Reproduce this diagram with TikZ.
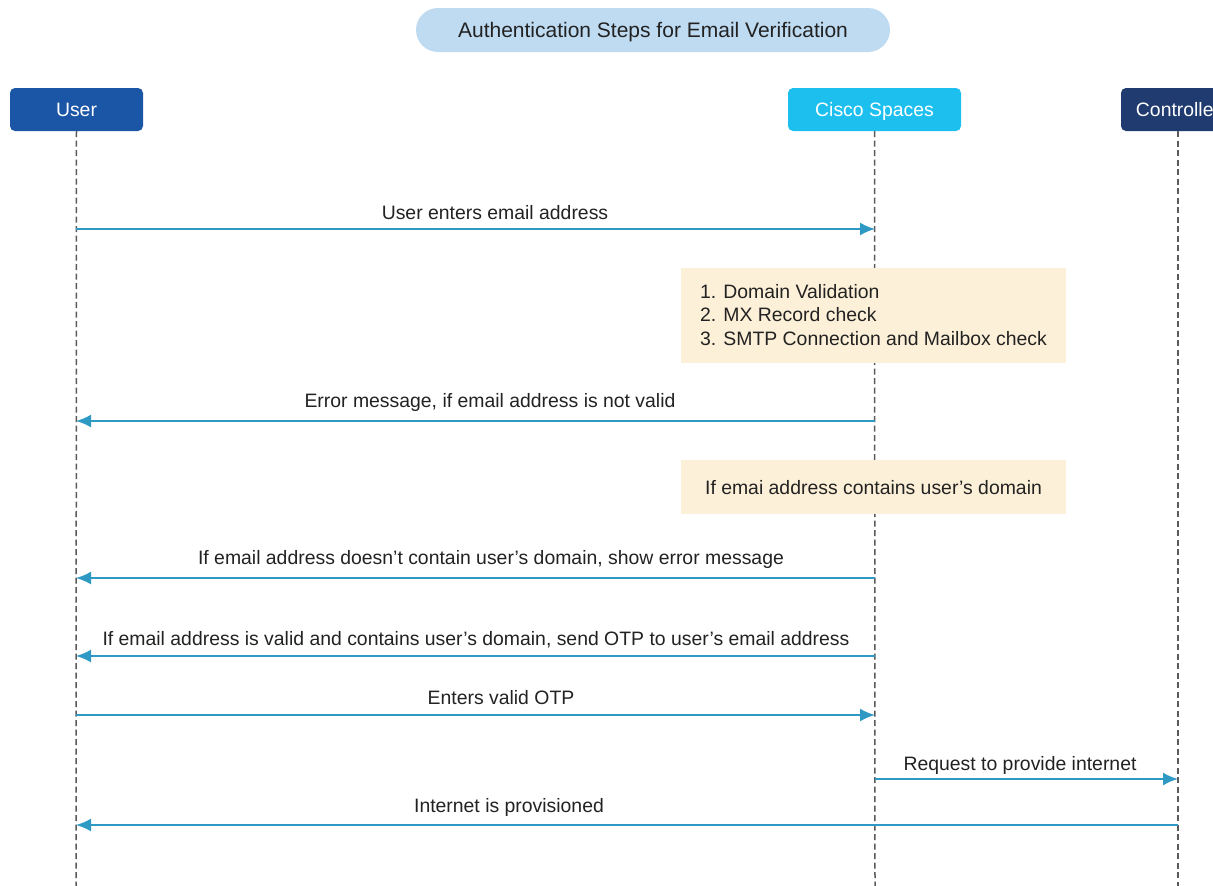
\documentclass[tikz,border=0pt]{standalone}
\usepackage{fontspec}
\setmainfont{Liberation Sans}
\usetikzlibrary{arrows.meta}
\definecolor{titlebg}{HTML}{BFDBF2}
\definecolor{userbg}{HTML}{1B56A6}
\definecolor{ciscobg}{HTML}{1DBFEF}
\definecolor{ctrlbg}{HTML}{1F3B70}
\definecolor{msgc}{HTML}{2E9AC4}
\definecolor{notebg}{HTML}{FDF0D8}
\definecolor{lifec}{HTML}{5A5A5A}
\definecolor{txt}{HTML}{222222}
\tikzset{
  actor/.style={rectangle, rounded corners=5, text=white, minimum height=43, inner sep=0, text height=14, text depth=0, font=\fontsize{19.4}{23}\selectfont},
  life/.style={draw=lifec, line width=1.5, dash pattern=on 6pt off 3.5pt},
  msg/.style={draw=msgc, line width=2, -{Latex[length=15pt,width=13pt]}},
  lbl/.style={text=txt, inner sep=0, text height=14, text depth=0, font=\fontsize{19.4}{23}\selectfont},
  note/.style={rectangle, fill=notebg, text=txt, inner sep=0, font=\fontsize{19.4}{23.5}\selectfont},
}
\begin{document}
\begin{tikzpicture}[x=1pt,y=-1pt]
\useasboundingbox (0,0) rectangle (1213,886);
\fill[white] (0,0) rectangle (1213,886);
\begin{scope}
\clip (0,0) rectangle (1213,886);
% title
\node[rectangle, rounded corners=22, fill=titlebg, text=txt, minimum width=474, minimum height=44, inner sep=0, text height=15, text depth=0, font=\fontsize{21}{25}\selectfont] (title) at (653,30) {Authentication Steps for Email Verification};
% actors
\node[actor, fill=userbg, minimum width=133] (user) at (76.5,109.5) {User};
\node[actor, fill=ciscobg, minimum width=173] (cisco) at (874.5,109.5) {Cisco Spaces};
\node[actor, fill=ctrlbg, minimum width=114] (ctrl) at (1178,109.5) {Controller};
% lifeline ends
\coordinate (uend) at (76,890);
\coordinate (cend) at (875,890);
\coordinate (kend) at (1178,890);
\draw[life] (user.south) -- (uend);
\draw[life] (cisco.south) -- (cend);
\draw[life] (ctrl.south) -- (kend);
% notes
\node[note, minimum width=385, minimum height=95, align=left] (n1) at (873.5,315) {1. Domain Validation\\2. MX Record check\\3. SMTP Connection and Mailbox check};
\node[note, minimum width=385, minimum height=54, text height=14, text depth=0] (n2) at (873.5,487) {If emai address contains user’s domain};
% message points
\foreach \n/\y in {1/229,3/421,5/578,6/656,7/715,9/825} {
  \coordinate (u\n) at (76,\y);
  \coordinate (c\n) at (875,\y);
}
\coordinate (c8) at (875,779);
\coordinate (k8) at (1178,779);
\coordinate (k9) at (1178,825);
% messages
\draw[msg] (u1) -- (c1);
\node[lbl] (l1) at (495,212) {User enters email address};
\draw[msg] (c3) -- (u3);
\node[lbl] (l3) at (490,400) {Error message, if email address is not valid};
\draw[msg] (c5) -- (u5);
\node[lbl] (l5) at (491,557) {If email address doesn’t contain user’s domain, show error message};
\draw[msg] (c6) -- (u6);
\node[lbl] (l6) at (476,638) {If email address is valid and contains user’s domain, send OTP to user’s email address};
\draw[msg] (u7) -- (c7);
\node[lbl] (l7) at (501,697) {Enters valid OTP};
\draw[msg] (c8) -- (k8);
\node[lbl] (l8) at (1020,763) {Request to provide internet};
\draw[msg] (k9) -- (u9);
\node[lbl] (l9) at (509,805) {Internet is provisioned};
\end{scope}
\end{tikzpicture}
\end{document}
